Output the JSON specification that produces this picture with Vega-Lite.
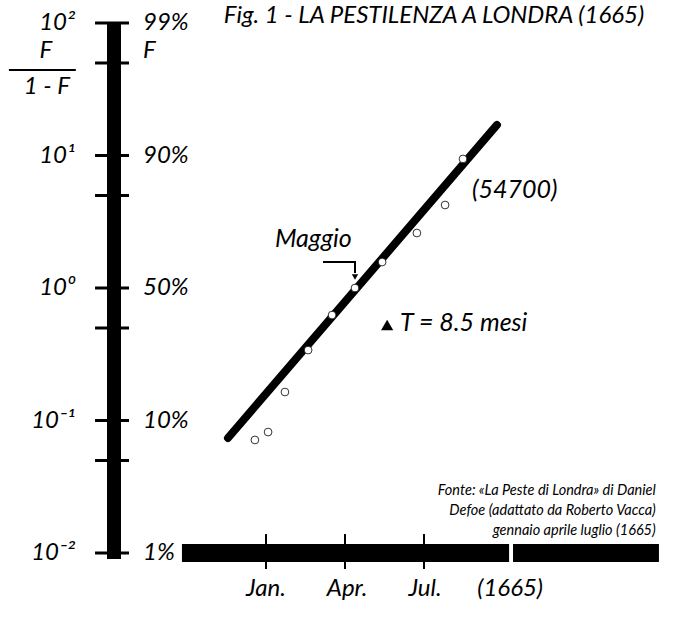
{
  "$schema": "https://vega.github.io/schema/vega-lite/v6.json",
  "width": 546,
  "height": 530,
  "autosize": "none",
  "padding": {"left": 114, "top": 23, "right": 16, "bottom": 65},
  "background": "white",
  "config": {
    "view": {"stroke": null},
    "text": {"font": "Lato", "fontStyle": "italic", "color": "black"}
  },
  "datasets": {
    "vbar": [{"m": -5.77, "r": 101.8, "r2": 0.009}],
    "yticks": [
      {"r": 100, "m": -6.49, "m2": -5.2}, {"r": 50, "m": -6.49, "m2": -5.2}, {"r": 10, "m": -6.49, "m2": -5.2},
      {"r": 5, "m": -6.49, "m2": -5.2}, {"r": 1, "m": -6.49, "m2": -5.2}, {"r": 0.5, "m": -6.49, "m2": -5.2},
      {"r": 0.1, "m": -6.49, "m2": -5.2}, {"r": 0.05, "m": -6.49, "m2": -5.2}, {"r": 0.01, "m": -6.49, "m2": -5.2}
    ],
    "hbar": [{"m": -3.19, "m2": 9.23, "r": 0.01}, {"m": 9.38, "m2": 14.92, "r": 0.01}],
    "xticks": [{"m": 0, "r": 0.0139, "r2": 0.00757}, {"m": 3, "r": 0.0139, "r2": 0.00757}, {"m": 6, "r": 0.0139, "r2": 0.00757}],
    "fit": [{"m": -1.443, "r": 0.0738}, {"m": 8.77, "r": 17.0}],
    "obs": [
      {"m": 7.48, "r": 9.42}, {"m": 6.80, "r": 4.23}, {"m": 5.73, "r": 2.60}, {"m": 4.41, "r": 1.57},
      {"m": 3.38, "r": 1.0}, {"m": 2.51, "r": 0.625}, {"m": 1.60, "r": 0.340}, {"m": 0.72, "r": 0.164},
      {"m": 0.08, "r": 0.0818}, {"m": -0.42, "r": 0.0713}
    ],
    "arrow": [{"m": 2.165, "r": 1.571, "o": 1}, {"m": 3.38, "r": 1.571, "o": 2}, {"m": 3.38, "r": 1.30, "o": 3}],
    "arrowhead": [{"m": 3.38, "r": 1.21}],
    "delta": [{"m": 4.60, "r": 0.526}],
    "fracline": [{"m": -9.76, "m2": -7.22, "r": 44.2}],
    "leftLabels": [
      {"t": "10²", "m": -7.25, "r": 100}, {"t": "10¹", "m": -7.25, "r": 10}, {"t": "10⁰", "m": -7.25, "r": 1},
      {"t": "10⁻¹", "m": -7.25, "r": 0.1}, {"t": "10⁻²", "m": -7.25, "r": 0.01}
    ],
    "rightLabels": [
      {"t": "99%", "m": -4.67, "r": 100}, {"t": "F", "m": -4.67, "r": 61}, {"t": "90%", "m": -4.67, "r": 10},
      {"t": "50%", "m": -4.67, "r": 1}, {"t": "10%", "m": -4.67, "r": 0.1}, {"t": "1%", "m": -4.67, "r": 0.01}
    ],
    "fraction": [{"t": "F", "m": -8.36, "r": 61}, {"t": "1 - F", "m": -8.32, "r": 32.9}],
    "title": [{"t": "Fig. 1 - LA PESTILENZA A LONDRA (1665)", "m": -1.6, "r": 140}],
    "notes": [
      {"t": "Maggio", "m": 0.34, "r": 2.34},
      {"t": "T = 8.5 mesi", "m": 5.09, "r": 0.544},
      {"t": "(54700)", "m": 7.82, "r": 5.49}
    ],
    "source": [
      {"t": "Fonte: «La Peste di Londra» di Daniel", "m": 14.8, "r": 0.0293},
      {"t": "Defoe (adattato da Roberto Vacca)", "m": 14.8, "r": 0.0207},
      {"t": "gennaio aprile luglio (1665)", "m": 14.8, "r": 0.0146}
    ],
    "xlabels": [
      {"t": "Jan.", "m": 0, "r": 0.00535}, {"t": "Apr.", "m": 3.08, "r": 0.00535},
      {"t": "Jul.", "m": 6.04, "r": 0.00535}, {"t": "(1665)", "m": 9.27, "r": 0.00535}
    ]
  },
  "encoding": {
    "x": {"field": "m", "type": "quantitative", "scale": {"domain": [-5.77, 14.96]}, "axis": null},
    "y": {"field": "r", "type": "quantitative", "scale": {"type": "log", "domain": [0.01, 100]}, "axis": null}
  },
  "layer": [
    {
      "data": {"name": "hbar"},
      "mark": {"type": "rule", "color": "black", "strokeWidth": 18},
      "encoding": {"x2": {"field": "m2"}}
    },
    {
      "data": {"name": "xticks"},
      "mark": {"type": "rule", "color": "black", "strokeWidth": 2},
      "encoding": {"y2": {"field": "r2"}}
    },
    {
      "data": {"name": "vbar"},
      "mark": {"type": "rule", "color": "black", "strokeWidth": 14},
      "encoding": {"y2": {"field": "r2"}}
    },
    {
      "data": {"name": "yticks"},
      "mark": {"type": "rule", "color": "black", "strokeWidth": 3},
      "encoding": {"x2": {"field": "m2"}}
    },
    {
      "data": {"name": "fracline"},
      "mark": {"type": "rule", "color": "black", "strokeWidth": 2},
      "encoding": {"x2": {"field": "m2"}}
    },
    {
      "data": {"name": "fit"},
      "mark": {"type": "line", "color": "black", "strokeWidth": 8, "strokeCap": "round"}
    },
    {
      "data": {"name": "obs"},
      "mark": {"type": "point", "filled": true, "fill": "white", "stroke": "black", "strokeWidth": 0.8, "size": 60, "opacity": 1}
    },
    {
      "data": {"name": "arrow"},
      "mark": {"type": "line", "color": "black", "strokeWidth": 2},
      "encoding": {"order": {"field": "o"}}
    },
    {
      "data": {"name": "arrowhead"},
      "mark": {"type": "point", "shape": "triangle-down", "filled": true, "color": "black", "size": 40, "opacity": 1}
    },
    {
      "data": {"name": "delta"},
      "mark": {"type": "point", "shape": "triangle-up", "filled": true, "color": "black", "size": 150, "opacity": 1}
    },
    {
      "data": {"name": "leftLabels"},
      "mark": {"type": "text", "align": "right", "baseline": "middle", "fontSize": 24},
      "encoding": {"text": {"field": "t"}}
    },
    {
      "data": {"name": "rightLabels"},
      "mark": {"type": "text", "align": "left", "baseline": "middle", "fontSize": 24},
      "encoding": {"text": {"field": "t"}}
    },
    {
      "data": {"name": "fraction"},
      "mark": {"type": "text", "align": "center", "baseline": "middle", "fontSize": 24},
      "encoding": {"text": {"field": "t"}}
    },
    {
      "data": {"name": "title"},
      "mark": {"type": "text", "align": "left", "baseline": "top", "fontSize": 24},
      "encoding": {"text": {"field": "t"}}
    },
    {
      "data": {"name": "notes"},
      "mark": {"type": "text", "align": "left", "baseline": "middle", "fontSize": 25},
      "encoding": {"text": {"field": "t"}}
    },
    {
      "data": {"name": "source"},
      "mark": {"type": "text", "align": "right", "baseline": "middle", "fontSize": 14.5},
      "encoding": {"text": {"field": "t"}}
    },
    {
      "data": {"name": "xlabels"},
      "mark": {"type": "text", "align": "center", "baseline": "middle", "fontSize": 24},
      "encoding": {"text": {"field": "t"}}
    }
  ]
}
